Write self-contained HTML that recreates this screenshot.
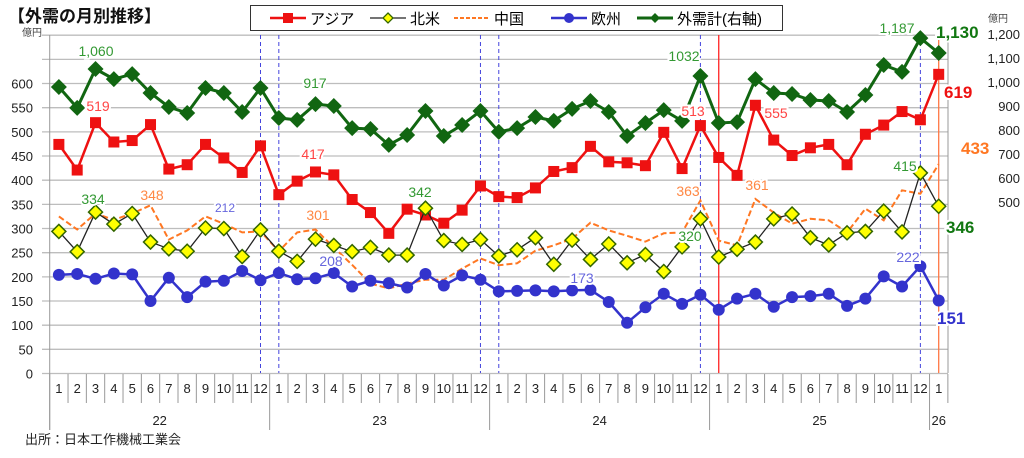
<!DOCTYPE html>
<html><head><meta charset="utf-8"><style>
body{margin:0;background:#fff;}
svg text{font-family:"Liberation Sans","Noto Sans CJK JP",sans-serif;}
</style></head><body>
<svg id="c" width="1024" height="453" viewBox="0 0 1024 453" xmlns="http://www.w3.org/2000/svg"></svg>
<script>
const S=document.getElementById('c');let h='';
const X0=49.7,W=18.33;const px=i=>X0+W*(i+0.5);
const yl=v=>373.5-0.4833*v, yr=v=>322-0.24*v;
for(let v=0;v<=700;v+=50){const y=yl(v);h+=`<line x1="42" x2="948" y1="${y}" y2="${y}" stroke="#bdbdbd" stroke-width="1.3"/>`;}
for(let v=0;v<=600;v+=50)h+=`<text x="33" y="${yl(v)+5}" font-size="13" text-anchor="end" fill="#222">${v}</text>`;
for(let v=500;v<=1200;v+=100)h+=`<text x="1020" y="${yr(v)+5}" font-size="13" text-anchor="end" fill="#222">${v.toLocaleString('en-US')}</text>`;
h+=`<line x1="49.7" x2="49.7" y1="35" y2="430" stroke="#999"/><line x1="948" x2="948" y1="35" y2="373" stroke="#999"/>`;
for(let i=0;i<=49;i++){const x=X0+W*i;const yr2=(i%12==0)?430:403;h+=`<line x1="${x}" x2="${x}" y1="374" y2="${yr2}" stroke="#999"/>`;}
for(let i=0;i<49;i++)h+=`<text x="${px(i)}" y="393" font-size="13" text-anchor="middle" fill="#222">${i%12+1}</text>`;
['22','23','24','25'].forEach((t,k)=>h+=`<text x="${X0+W*(12*k+6)}" y="425" font-size="13" text-anchor="middle" fill="#222">${t}</text>`);
h+=`<text x="${px(48)}" y="425" font-size="13" text-anchor="middle" fill="#222">26</text>`;
[11,12,23,24,35,47].forEach(i=>h+=`<line x1="${px(i)}" x2="${px(i)}" y1="35" y2="373" stroke="#4444dd" stroke-dasharray="4,3" stroke-width="1"/>`);
h+=`<line x1="${px(36)}" x2="${px(36)}" y1="35" y2="373" stroke="#ff2222" stroke-width="1.3"/>`;
h+=`<line x1="${px(48)}" x2="${px(48)}" y1="35" y2="373" stroke="#ff7744" stroke-width="1.3"/>`;
const asia=[474,421,519,479,482,515,423,432,474,446,416,471,370,398,417,411,360,333,290,340,328,311,338,388,366,364,384,418,426,470,438,436,430,499,424,513,447,410,555,483,451,467,474,432,495,514,542,525,619];
const na=[294,252,334,309,331,272,258,253,301,300,242,297,253,232,278,265,252,261,245,245,342,275,267,277,243,256,281,226,276,236,268,229,246,211,262,320,241,257,272,320,330,281,266,291,294,336,293,415,346];
const cn=[325,298,331,318,331,348,277,296,325,310,292,294,253,292,298,261,225,186,176,186,194,194,217,238,224,228,254,265,279,312,296,285,273,290,292,358,275,265,361,333,310,320,317,292,341,317,379,372,433];
const eu=[204,206,196,207,205,150,198,158,190,192,212,193,208,195,197,208,180,192,187,178,206,182,203,194,170,171,172,170,172,173,148,105,137,165,144,163,132,155,165,138,158,160,165,140,155,201,180,222,151];
const tot=[979,892,1054,1012,1033,954,896,871,975,954,875,975,850,842,908,900,808,804,738,779,879,775,821,879,792,808,854,838,888,921,875,775,829,883,838,1025,829,833,1012,954,950,925,921,875,946,1071,1042,1183,1121];
const pts=(a,f)=>a.map((v,i)=>px(i).toFixed(1)+','+f(v).toFixed(1)).join(' ');
h+=`<polyline points="${pts(cn,yl)}" fill="none" stroke="#ff7722" stroke-width="2" stroke-dasharray="6,3"/>`;
h+=`<polyline points="${pts(tot,yr)}" fill="none" stroke="#116611" stroke-width="3"/>`;
tot.forEach((v,i)=>{const x=px(i),y=yr(v);h+=`<polygon points="${x},${y-8} ${x+8},${y} ${x},${y+8} ${x-8},${y}" fill="#116611"/>`;});
h+=`<polyline points="${pts(asia,yl)}" fill="none" stroke="#ee1111" stroke-width="2.5"/>`;
asia.forEach((v,i)=>h+=`<rect x="${px(i)-5.5}" y="${yl(v)-5.5}" width="11" height="11" fill="#ee1111"/>`);
h+=`<polyline points="${pts(eu,yl)}" fill="none" stroke="#3333cc" stroke-width="2.5"/>`;
eu.forEach((v,i)=>h+=`<circle cx="${px(i)}" cy="${yl(v)}" r="6" fill="#3333cc"/>`);
h+=`<polyline points="${pts(na,yl)}" fill="none" stroke="#222" stroke-width="1.3"/>`;
na.forEach((v,i)=>{const x=px(i),y=yl(v);h+=`<polygon points="${x},${y-7} ${x+7},${y} ${x},${y+7} ${x-7},${y}" fill="#ffff00" stroke="#336600" stroke-width="1.5"/>`;});
const L=[['1,060',96,56,'#339933'],['519',98,111,'#ff4444'],['334',93,204,'#339933'],['348',152,200,'#ff8844'],['212',225,212,'#6666dd',12],['917',315,88,'#339933'],['417',313,159,'#ff4444'],['301',318,220,'#ff8844'],['208',331,266,'#6666dd'],['342',420,197,'#339933'],['173',582,283,'#6666dd'],['1032',684,61,'#339933'],['513',693,116,'#ff4444'],['363',688,196,'#ff8844'],['320',690,241,'#339933'],['555',776,118,'#ff4444'],['361',757,190,'#ff8844'],['415',905,171,'#339933'],['1,187',897,33,'#339933'],['222',908,262,'#6666dd']];
L.forEach(l=>h+=`<text x="${l[1]}" y="${l[2]}" font-size="${l[4]||14}" text-anchor="middle" fill="${l[3]}" stroke="#fff" stroke-width="4" paint-order="stroke">${l[0]}</text>`);
const B=[['1,130',936,38,'#117711'],['619',944,98,'#ee1111'],['433',961,154,'#ff7722'],['346',946,233,'#117711'],['151',937,324,'#3333cc']];
B.forEach(l=>h+=`<text x="${l[1]}" y="${l[2]}" font-size="17" font-weight="bold" fill="${l[3]}" stroke="#fff" stroke-width="4" paint-order="stroke">${l[0]}</text>`);
h+=`<text x="8" y="22" font-size="17" font-weight="bold" fill="#111">【外需の月別推移】</text>`;
h+=`<text x="22" y="36" font-size="10" fill="#444">億円</text><text x="988" y="22" font-size="10" fill="#444">億円</text>`;
h+=`<rect x="250.5" y="5.5" width="532" height="25" fill="#fff" stroke="#333"/>`;
let lx=270;const ly=18;
h+=`<line x1="${lx}" x2="${lx+36}" y1="${ly}" y2="${ly}" stroke="#ee1111" stroke-width="2.5"/><rect x="${lx+13}" y="${ly-5}" width="10" height="10" fill="#ee1111"/><text x="${lx+40}" y="${ly+6}" font-size="15">アジア</text>`;
lx=370;h+=`<line x1="${lx}" x2="${lx+36}" y1="${ly}" y2="${ly}" stroke="#222" stroke-width="1.3"/><polygon points="${lx+18},${ly-5} ${lx+23},${ly} ${lx+18},${ly+5} ${lx+13},${ly}" fill="#ff0" stroke="#360" stroke-width="1.3"/><text x="${lx+40}" y="${ly+6}" font-size="15">北米</text>`;
lx=454;h+=`<line x1="${lx}" x2="${lx+36}" y1="${ly}" y2="${ly}" stroke="#ff7722" stroke-width="2" stroke-dasharray="4,2"/><text x="${lx+40}" y="${ly+6}" font-size="15">中国</text>`;
lx=551;h+=`<line x1="${lx}" x2="${lx+36}" y1="${ly}" y2="${ly}" stroke="#3333cc" stroke-width="2.5"/><circle cx="${lx+18}" cy="${ly}" r="5" fill="#3333cc"/><text x="${lx+40}" y="${ly+6}" font-size="15">欧州</text>`;
lx=637;h+=`<line x1="${lx}" x2="${lx+36}" y1="${ly}" y2="${ly}" stroke="#116611" stroke-width="3"/><polygon points="${lx+18},${ly-5} ${lx+23},${ly} ${lx+18},${ly+5} ${lx+13},${ly}" fill="#116611"/><text x="${lx+40}" y="${ly+6}" font-size="15">外需計(右軸)</text>`;
h+=`<text x="25" y="444" font-size="13" fill="#222">出所：日本工作機械工業会</text>`;
S.innerHTML=h;
</script>
</body></html>
